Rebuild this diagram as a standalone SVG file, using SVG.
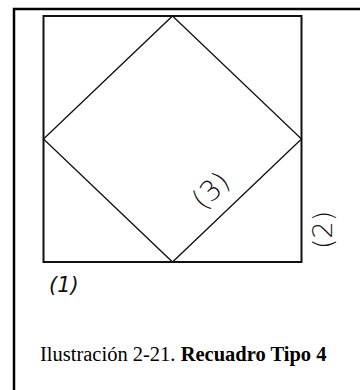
<svg xmlns="http://www.w3.org/2000/svg" width="360" height="390" viewBox="0 0 360 390">
<style>
.frame{stroke:#000;stroke-width:2.5;fill:none}
.sq{stroke:#111;stroke-width:2;fill:none}
.dm{stroke:#111;stroke-width:1.3;fill:none}
.cad{font-family:"DejaVu Sans",sans-serif;font-weight:200;fill:#111}
.cap{font-family:"Liberation Serif",serif;font-size:20.5px;fill:#000}
</style>
<rect width="360" height="390" fill="#fff"/>
<g id="frame">
<path class="frame" d="M14,390 V9 H360"/>
</g>
<g id="square">
<rect class="sq" x="43.5" y="16" width="258" height="246"/>
</g>
<g id="connectors">
<path class="dm" d="M172.5,16 L301.5,139 L172.5,262 L43.5,139 Z"/>
</g>
<g id="label1">
<text class="cad" x="49" y="292" font-size="21" font-style="italic">(1)</text>
</g>
<g id="label2">
<text class="cad" transform="translate(332,249) rotate(-90)" font-size="27">(2)</text>
</g>
<g id="label3">
<text class="cad" transform="translate(203,211) rotate(-43.6)" font-size="28">(3)</text>
</g>
<g id="caption">
<text class="cap" x="40" y="361">Ilustración 2-21. <tspan font-weight="bold">Recuadro Tipo 4</tspan></text>
</g>
</svg>
